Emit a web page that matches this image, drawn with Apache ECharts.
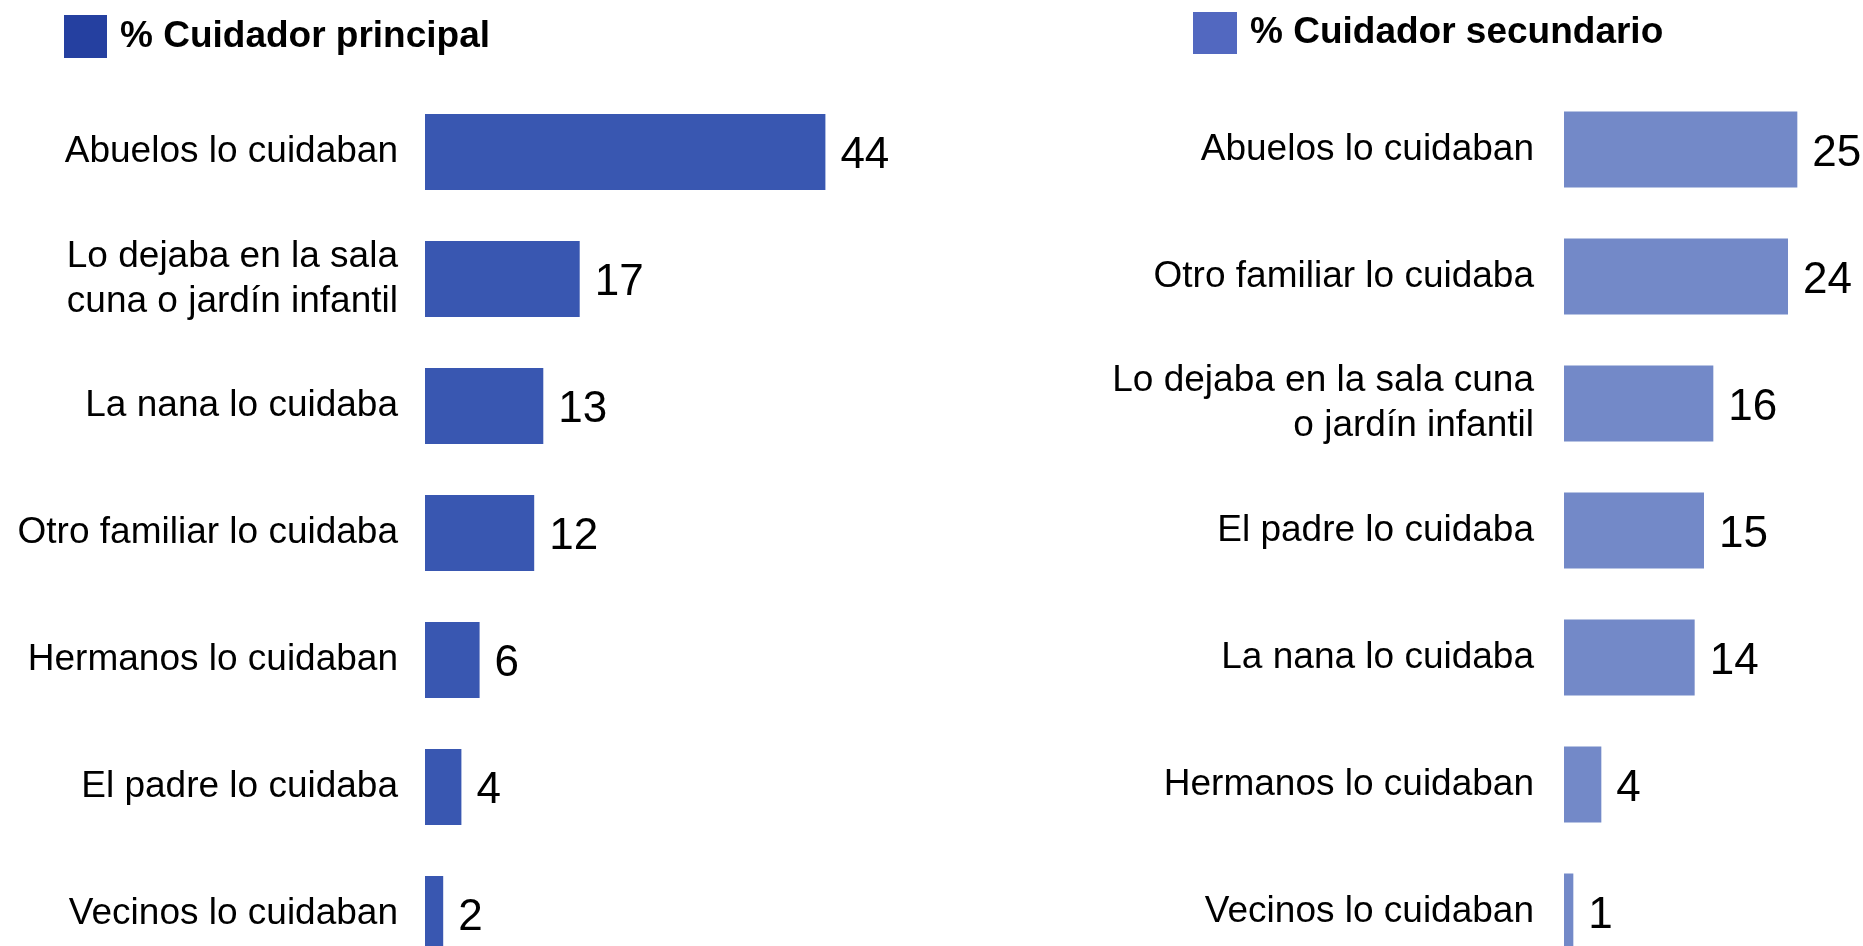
<!DOCTYPE html>
<html>
<head>
<meta charset="utf-8">
<script src="https://cdn.jsdelivr.net/npm/echarts@6/dist/echarts.min.js"></script>
<style>
  html, body { margin: 0; padding: 0; background: #fff; }
  #main { width: 1863px; height: 946px; }
</style>
</head>
<body>
<div id="main"></div>
<script>
  // Cuidador principal
  const leftCats = ['Abuelos lo cuidaban', 'Lo dejaba en la sala\ncuna o jardín infantil', 'La nana lo cuidaba',
    'Otro familiar lo cuidaba', 'Hermanos lo cuidaban', 'El padre lo cuidaba', 'Vecinos lo cuidaban'];
  const leftVals = [44, 17, 13, 12, 6, 4, 2];

  // Cuidador secundario
  const rightCats = ['Abuelos lo cuidaban', 'Otro familiar lo cuidaba', 'Lo dejaba en la sala cuna\no jardín infantil',
    'El padre lo cuidaba', 'La nana lo cuidaba', 'Hermanos lo cuidaban', 'Vecinos lo cuidaban'];
  const rightVals = [25, 24, 16, 15, 14, 4, 1];

  const font = "'Liberation Sans', Arial, sans-serif";

  let chart = echarts.init(document.getElementById('main'));

  function catAxis(idx, cats, margin) {
    return {
      type: 'category',
      gridIndex: idx,
      inverse: true,
      data: cats,
      axisLine: { show: false },
      axisTick: { show: false },
      axisLabel: {
        margin: margin,
        color: '#000',
        fontSize: 37,
        lineHeight: 45,
        fontFamily: font,
        align: 'right',
        padding: [11, 0, 0, 0]
      }
    };
  }

  function barSeries(name, idx, vals, color) {
    return {
      name: name,
      type: 'bar',
      xAxisIndex: idx,
      yAxisIndex: idx,
      data: vals,
      barWidth: 76,
      itemStyle: { color: color },
      label: {
        show: true,
        position: 'right',
        distance: 15,
        offset: [0, 4],
        color: '#000',
        fontSize: 44,
        fontFamily: font
      },
      animation: false
    };
  }

  let option = {
    animation: false,
    legend: [
      {
        data: [{ name: '% Cuidador principal', itemStyle: { color: '#2540a0' } }],
        left: 64, top: 15, padding: 0,
        itemWidth: 43, itemHeight: 43, itemGap: 0,
        icon: 'rect',
        selectedMode: false,
        textStyle: { fontSize: 37, fontWeight: 'bold', color: '#000', fontFamily: font, padding: [6, 0, 0, 8] }
      },
      {
        data: [{ name: '% Cuidador secundario', itemStyle: { color: '#5268c0' } }],
        left: 1193, top: 12, padding: 0,
        itemWidth: 44, itemHeight: 42, itemGap: 0,
        icon: 'rect',
        selectedMode: false,
        textStyle: { fontSize: 37, fontWeight: 'bold', color: '#000', fontFamily: font, padding: [6, 0, 0, 8] }
      }
    ],
    grid: [
      { left: 425, top: 88.5, width: 455, height: 889, outerBoundsMode: 'none' },
      { left: 1564, top: 86, width: 280, height: 889, outerBoundsMode: 'none' }
    ],
    xAxis: [
      { type: 'value', gridIndex: 0, min: 0, max: 50, show: false },
      { type: 'value', gridIndex: 1, min: 0, max: 30, show: false }
    ],
    yAxis: [
      catAxis(0, leftCats, 27),
      catAxis(1, rightCats, 30)
    ],
    series: [
      barSeries('% Cuidador principal', 0, leftVals, '#3957b1'),
      barSeries('% Cuidador secundario', 1, rightVals, '#7389c8')
    ]
  };

  chart.setOption(option);
</script>
</body>
</html>
